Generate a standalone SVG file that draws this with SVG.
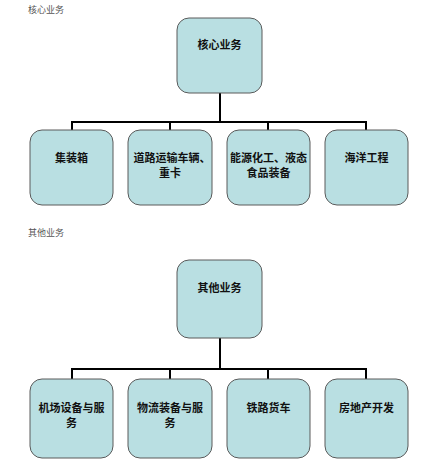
<svg xmlns="http://www.w3.org/2000/svg" width="439" height="463" viewBox="0 0 439 463">
<style>
.node rect{fill:#b9dfe2;stroke:#5a5a5a;stroke-width:1}
.node text{font-family:"Noto Sans CJK SC","Noto Sans",sans-serif;font-size:11px;font-weight:bold;fill:#111;text-anchor:middle}
.cap{font-family:"Noto Sans CJK SC","Noto Sans",sans-serif;font-size:9px;fill:#555}
.conn path{fill:none;stroke:#000;stroke-width:2}
</style>
<rect width="439" height="463" fill="#fff"/>
<text class="cap" x="28" y="13">核心业务</text>
<text class="cap" x="28" y="236">其他业务</text>
<g class="conn">
<path d="M220 93V122M72 130V122H366V130M170 122V130M268 122V130"/>
<path d="M220 338V369M72 379V369H366V379M170 369V379M268 369V379"/>
</g>
<g id="core" class="node"><rect x="177" y="18" width="85" height="75" rx="12"/><text x="219.5" y="49">核心业务</text></g>
<g id="c1" class="node"><rect x="30" y="130" width="83" height="75" rx="12"/><text x="71.5" y="162">集装箱</text></g>
<g id="c2" class="node"><rect x="128" y="130" width="84" height="75" rx="12"/><text x="172" y="162">道路运输车辆、</text><text x="170" y="177">重卡</text></g>
<g id="c3" class="node"><rect x="227" y="130" width="83" height="75" rx="12"/><text x="268.5" y="162">能源化工、液态</text><text x="268.5" y="177">食品装备</text></g>
<g id="c4" class="node"><rect x="325" y="130" width="83" height="75" rx="12"/><text x="366.5" y="162">海洋工程</text></g>
<g id="other" class="node"><rect x="177" y="260" width="85" height="78" rx="12"/><text x="219.5" y="292">其他业务</text></g>
<g id="o1" class="node"><rect x="30" y="379" width="83" height="79" rx="12"/><text x="71.5" y="412">机场设备与服</text><text x="71.5" y="427">务</text></g>
<g id="o2" class="node"><rect x="128" y="379" width="84" height="79" rx="12"/><text x="170" y="412">物流装备与服</text><text x="170" y="427">务</text></g>
<g id="o3" class="node"><rect x="227" y="379" width="83" height="79" rx="12"/><text x="268.5" y="412">铁路货车</text></g>
<g id="o4" class="node"><rect x="325" y="379" width="83" height="79" rx="12"/><text x="366.5" y="412">房地产开发</text></g>
</svg>
